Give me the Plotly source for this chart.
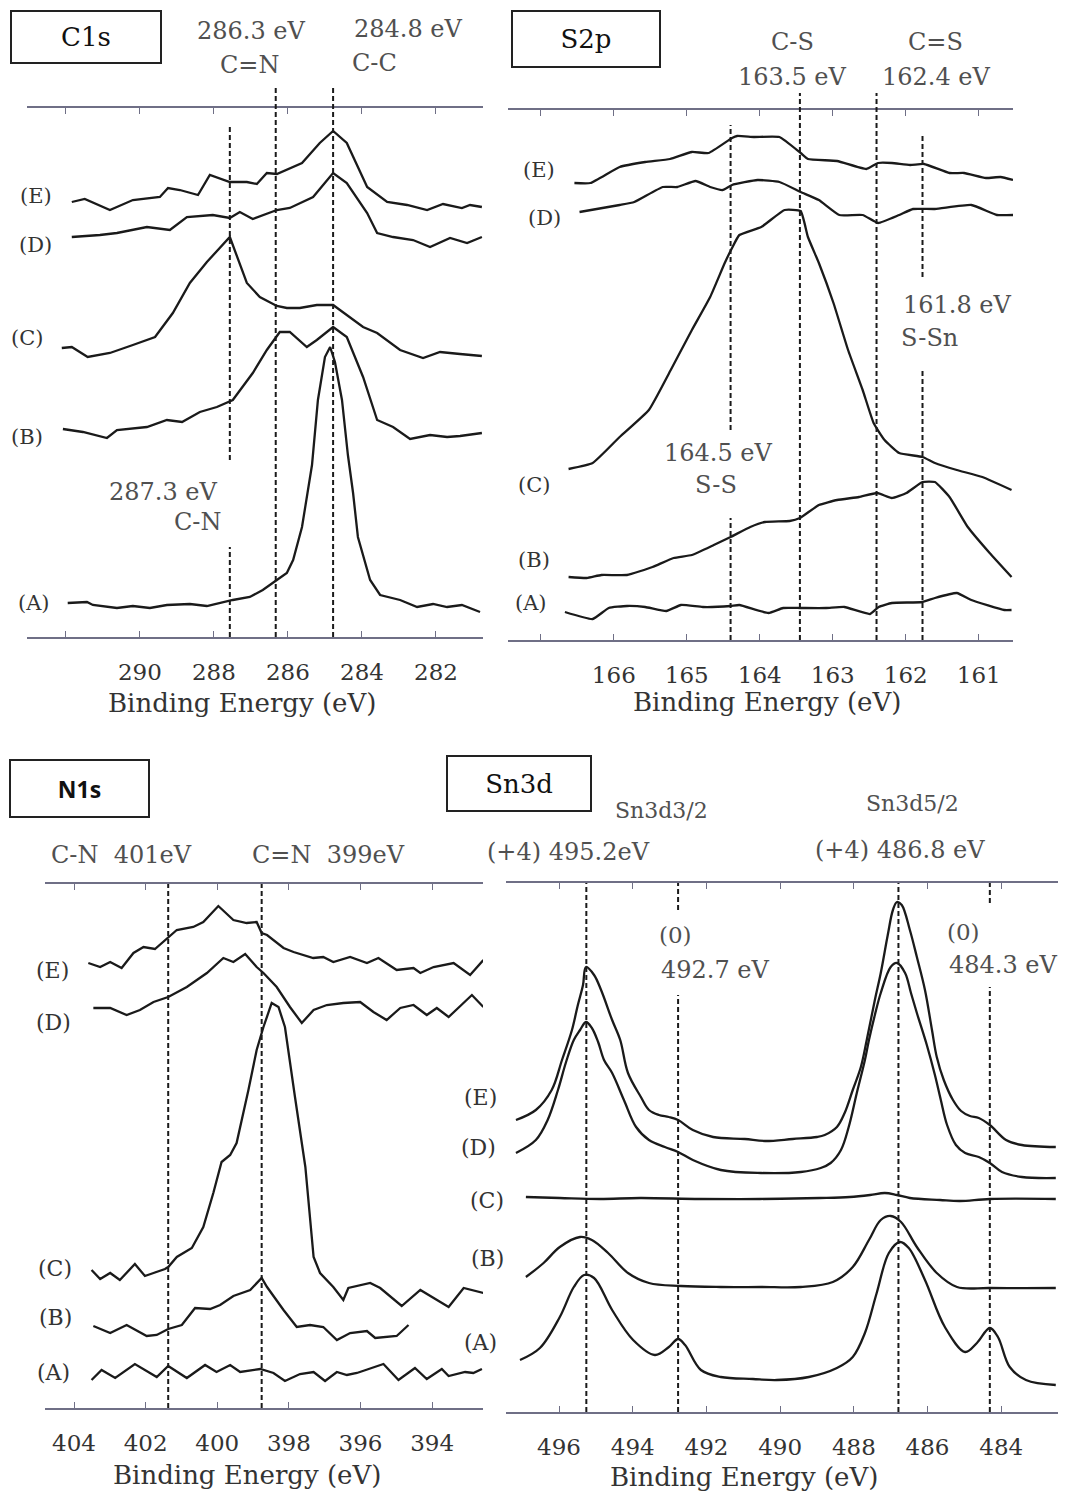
import plotly.graph_objects as go

W, H = 1069, 1493
SERIF = "DejaVu Serif, Liberation Serif, Noto Serif, serif"
SANS = "Open Sans"
INK = "#1a1a1a"
TXT = "#333333"
GRAY = "#505050"
AXC = "#6f6f86"

# ---------------- C1s ----------------
c1s_ticks = [292, 290, 288, 286, 284, 282]
c1s_ticktext = ["", "290", "288", "286", "284", "282"]
c1s_E_ev = [291.84, 291.49, 290.81, 290.19, 289.46, 289.24, 288.92, 288.43, 288.11, 287.57, 287.11, 286.84, 286.57,
            286.30, 285.62, 285.14, 284.78, 284.41, 283.86, 283.32, 282.78, 282.24, 281.81, 281.30, 281.08, 280.76]
c1s_E_int = [435, 438, 427, 437, 440, 449, 447, 442, 462, 455, 455, 453, 464, 463, 474, 494, 506, 494, 450, 435, 432,
             427, 433, 429, 432, 430]
c1s_D_ev = [291.84, 291.08, 290.62, 289.81, 289.19, 288.73, 288.03, 287.57, 287.30, 286.95, 286.30, 285.95, 285.32,
            284.78, 284.41, 283.86, 283.59, 283.16, 282.62, 282.16, 281.62, 281.16, 280.76]
c1s_D_int = [400, 402, 404, 410, 407, 420, 422, 419, 425, 418, 427, 429, 440, 464, 454, 424, 404, 400, 397, 390, 399,
             394, 400]
c1s_C_ev = [292.11, 291.84, 291.41, 290.81, 290.19, 289.59, 289.11, 288.65, 288.19, 287.57, 287.11, 286.76, 286.30,
            286.03, 285.68, 285.22, 284.78, 284.41, 283.97, 283.59, 282.97, 282.35, 281.89, 281.35, 280.76]
c1s_C_int = [289, 290, 280, 284, 292, 300, 324, 354, 375, 400, 354, 340, 331, 329, 329, 332, 332, 322, 310, 304, 287,
             279, 285, 283, 281]
c1s_B_ev = [292.08, 291.54, 290.89, 290.62, 289.81, 289.27, 288.86, 288.38, 287.92, 287.49, 286.95, 286.57, 286.22,
            285.95, 285.49, 285.22, 284.78, 284.41, 283.97, 283.59, 283.16, 282.70, 282.16, 281.70, 281.35, 280.76]
c1s_B_int = [208, 205, 199, 207, 210, 217, 215, 225, 230, 237, 264, 287, 305, 305, 290, 297, 310, 300, 260, 217, 210,
             198, 202, 200, 201, 204]
c1s_A_ev = [291.95, 291.43, 291.27, 290.62, 290.19, 289.73, 289.27, 288.65, 288.19, 287.84, 287.49, 287.03, 286.68,
            286.30, 286.03, 285.86, 285.62, 285.35, 285.19, 285.00, 284.86, 284.73, 284.54, 284.38, 284.24, 284.11,
            283.78, 283.51, 282.97, 282.51, 282.08, 281.70, 281.30, 280.81]
c1s_A_int = [34, 35, 32, 29, 31, 29, 32, 33, 31, 34, 37, 40, 47, 57, 64, 77, 110, 172, 237, 280, 290, 275, 237, 182,
             144, 100, 57, 42, 37, 30, 33, 30, 32, 25]
# guide lines: (eV, [(int_low, int_high), ...])
c1s_guides = [(284.78, [(0, 549)]), (286.33, [(0, 552)]), (287.57, [(177, 510), (0, 90)])]

# ---------------- S2p ----------------
s2p_ticks = [167, 166, 165, 164, 163, 162, 161]
s2p_ticktext = ["", "166", "165", "164", "163", "162", "161"]
s2p_E_ev = [166.54, 166.32, 165.92, 165.57, 165.23, 164.93, 164.70, 164.38, 164.31, 164.08, 163.73, 163.44, 163.34,
            162.94, 162.54, 162.38, 162.19, 161.94, 161.75, 161.40, 161.20, 160.90, 160.70, 160.53]
s2p_E_int = [457, 457, 473, 478, 481, 488, 487, 502, 504, 503, 503, 487, 481, 479, 471, 477, 477, 475, 476, 467, 467,
             462, 463, 460]
s2p_D_ev = [166.47, 165.92, 165.72, 165.33, 165.13, 164.88, 164.68, 164.51, 164.38, 164.03, 163.73, 163.44, 163.19,
            162.91, 162.59, 162.38, 162.09, 161.90, 161.60, 161.10, 160.75, 160.53]
s2p_D_int = [428, 435, 438, 453, 453, 459, 453, 450, 455, 460, 458, 448, 440, 425, 425, 417, 425, 431, 431, 435, 425,
             425]
s2p_C_ev = [166.62, 166.29, 165.92, 165.52, 165.22, 164.93, 164.68, 164.48, 164.38, 164.28, 163.98, 163.66, 163.44,
            163.34, 163.19, 162.99, 162.79, 162.59, 162.44, 162.29, 162.09, 161.77, 161.60, 161.30, 160.95, 160.55]
s2p_C_int = [171, 177, 203, 230, 270, 310, 343, 377, 392, 405, 413, 430, 429, 403, 377, 337, 290, 250, 217, 200, 187,
             183, 177, 170, 163, 150]
s2p_B_ev = [166.62, 166.37, 166.17, 165.82, 165.47, 165.18, 164.93, 164.63, 164.40, 164.13, 163.93, 163.59, 163.45,
            163.19, 162.94, 162.64, 162.39, 162.19, 161.99, 161.77, 161.60, 161.40, 161.15, 160.85, 160.55]
s2p_B_int = [63, 62, 65, 65, 73, 82, 85, 95, 103, 113, 118, 119, 122, 135, 140, 143, 147, 142, 147, 158, 158, 143,
             113, 87, 63]
s2p_A_ev = [166.67, 166.29, 166.07, 165.82, 165.57, 165.28, 165.08, 164.78, 164.40, 164.28, 163.88, 163.68, 163.44,
            163.09, 162.84, 162.49, 162.37, 162.19, 161.77, 161.60, 161.30, 161.10, 160.65, 160.55]
s2p_A_int = [28, 21, 32, 34, 33, 29, 35, 33, 34, 35, 27, 32, 32, 32, 33, 26, 33, 37, 38, 42, 47, 40, 30, 30]
s2p_guides = [(164.40, [(210, 515), (0, 122)]), (163.45, [(0, 547)]), (162.40, [(0, 547)]),
              (161.77, [(363, 507), (0, 272)])]

# ---------------- N1s ----------------
n1s_ticks = [404, 402, 400, 398, 396, 394]
n1s_ticktext = ["404", "402", "400", "398", "396", "394"]
n1s_E_ev = [403.60, 403.27, 402.99, 402.67, 402.34, 402.06, 401.74, 401.37, 401.13, 400.67, 400.39, 399.97, 399.55,
            399.18, 398.90, 398.76, 398.61, 398.15, 397.87, 397.32, 397.04, 396.76, 396.29, 395.82, 395.50, 394.99,
            394.52, 394.33, 393.96, 393.40, 392.94, 392.57]
n1s_E_int = [445, 441, 446, 440, 455, 461, 459, 470, 478, 481, 486, 502, 488, 485, 486, 475, 473, 460, 456, 450, 451,
             446, 451, 445, 450, 438, 440, 435, 441, 445, 433, 448]
n1s_D_ev = [403.46, 402.99, 402.53, 402.16, 401.78, 401.37, 400.85, 400.29, 399.83, 399.55, 399.22, 398.90, 398.71,
            398.34, 397.97, 397.64, 397.31, 396.94, 396.48, 396.01, 395.64, 395.27, 394.89, 394.52, 394.15, 393.87,
            393.54, 392.89, 392.57]
n1s_D_int = [400, 400, 393, 398, 406, 411, 421, 435, 450, 446, 454, 441, 435, 421, 401, 385, 398, 403, 405, 406, 396,
             388, 400, 403, 393, 400, 391, 413, 401]
n1s_C_ev = [403.51, 403.27, 402.99, 402.72, 402.30, 402.02, 401.78, 401.46, 401.37, 401.13, 400.71, 400.39, 400.11,
            399.88, 399.64, 399.46, 399.13, 398.90, 398.71, 398.48, 398.29, 398.11, 397.83, 397.54, 397.31, 397.13,
            396.76, 396.48, 396.34, 395.73, 395.45, 394.85, 394.33, 393.54, 393.12, 392.57]
n1s_C_int = [138, 129, 135, 128, 144, 132, 135, 139, 141, 151, 160, 181, 215, 246, 253, 265, 318, 358, 381, 405, 401,
             381, 311, 241, 151, 135, 121, 108, 120, 125, 120, 102, 118, 101, 120, 115]
n1s_B_ev = [403.46, 402.99, 402.53, 401.97, 401.69, 401.37, 400.99, 400.62, 400.20, 399.92, 399.55, 399.08, 398.76,
            398.61, 398.15, 397.78, 397.41, 397.04, 396.66, 396.29, 395.82, 395.59, 394.99, 394.66]
n1s_B_int = [82, 75, 83, 72, 73, 79, 83, 100, 99, 103, 112, 118, 130, 121, 98, 81, 83, 81, 68, 75, 77, 70, 72, 83]
n1s_A_ev = [403.51, 403.23, 402.85, 402.30, 401.69, 401.37, 400.85, 400.34, 400.02, 399.64, 399.36, 398.80, 398.43,
            398.11, 397.69, 397.31, 396.99, 396.66, 396.38, 396.10, 395.36, 394.94, 394.48, 394.15, 393.73, 393.54,
            393.08, 392.85, 392.61]
n1s_A_int = [28, 38, 30, 44, 31, 42, 30, 43, 36, 43, 36, 39, 35, 27, 34, 36, 27, 36, 33, 35, 44, 28, 40, 29, 39, 32,
             36, 35, 39]
n1s_guides = [(401.37, [(0, 524)]), (398.76, [(0, 524)])]

# ---------------- Sn3d ----------------
sn_ticks = [496, 494, 492, 490, 488, 486, 484]
sn_ticktext = ["496", "494", "492", "490", "488", "486", "484"]
sn_E_ev = [497.17, 496.63, 496.20, 495.92, 495.65, 495.49, 495.35, 495.27, 495.05, 494.86, 494.56, 494.34, 494.13,
           493.78, 493.56, 493.29, 493.02, 492.77, 492.37, 491.82, 490.96, 490.41, 489.66, 489.00, 488.79, 488.46,
           488.25, 488.03, 487.81, 487.65, 487.43, 487.27, 487.08, 486.94, 486.83, 486.70, 486.48, 486.29, 486.07,
           485.88, 485.75, 485.56, 485.31, 485.09, 484.85, 484.61, 484.31, 483.87, 483.44, 482.52]
sn_E_int = [292, 302, 322, 352, 382, 407, 427, 445, 437, 422, 392, 372, 339, 315, 302, 297, 295, 292, 282, 275, 273,
            271, 273, 275, 277, 285, 299, 322, 345, 372, 412, 439, 477, 502, 510, 507, 482, 455, 422, 382, 355, 332,
            312, 301, 296, 294, 287, 272, 267, 265]
sn_D_ev = [497.17, 496.63, 496.31, 496.03, 495.81, 495.60, 495.43, 495.27, 495.11, 494.94, 494.78, 494.56, 494.24,
           493.91, 493.56, 493.13, 492.77, 492.37, 491.61, 490.52, 489.44, 488.90, 488.63, 488.35, 488.14, 487.92,
           487.70, 487.59, 487.43, 487.27, 487.00, 486.83, 486.61, 486.45, 486.29, 486.02, 485.80, 485.64, 485.47,
           485.23, 484.98, 484.61, 484.31, 483.98, 483.44, 482.52]
sn_D_int = [259, 272, 292, 322, 350, 372, 382, 390, 384, 370, 352, 339, 312, 285, 272, 265, 260, 252, 242, 239, 240,
            244, 249, 262, 285, 319, 352, 372, 397, 419, 445, 449, 439, 419, 399, 367, 337, 312, 287, 267, 259, 255,
            249, 240, 235, 234]
sn_C_ev = [496.90, 495.98, 494.89, 493.80, 492.18, 490.55, 488.92, 488.11, 487.56, 487.16, 486.83, 486.48, 485.66,
           485.12, 484.31, 482.52]
sn_C_int = [215, 214, 213, 214, 213, 213, 214, 215, 217, 219, 217, 214, 212, 211, 213, 213]
sn_B_ev = [496.90, 496.42, 495.98, 495.43, 495.11, 494.67, 494.13, 493.56, 492.69, 491.61, 490.52, 489.44, 488.57,
           488.03, 487.59, 487.27, 487.00, 486.72, 486.29, 485.75, 485.20, 484.31, 482.52]
sn_B_int = [135, 149, 165, 175, 172, 159, 139, 129, 126, 125, 125, 125, 130, 145, 172, 192, 196, 190, 165, 139, 125,
            124, 124]
sn_A_ev = [497.06, 496.52, 495.98, 495.60, 495.32, 495.05, 494.56, 493.99, 493.40, 493.02, 492.77, 492.58, 492.15,
           491.61, 490.74, 490.09, 489.22, 488.46, 488.03, 487.70, 487.38, 487.05, 486.75, 486.51, 486.07, 485.53,
           484.98, 484.66, 484.31, 484.09, 483.77, 483.33, 482.52]
sn_A_int = [52, 64, 95, 125, 137, 134, 102, 72, 57, 65, 73, 67, 42, 35, 33, 32, 35, 44, 55, 79, 119, 159, 170, 164,
            132, 85, 60, 69, 84, 75, 45, 32, 27]
sn_guides = [(495.26, [(0, 529)]), (492.77, [(0, 417), (502, 529)]), (486.79, [(0, 529)]),
             (484.31, [(0, 425), (509, 529)])]

# ---------------- layout helpers ----------------
def px(x):
    return x / W


def py(y):
    return 1 - y / H


panels = [
    ("", (27, 483), (108, 637), (293.05, 280.73), 529, c1s_ticks, c1s_ticktext,
     [(c1s_E_ev, c1s_E_int), (c1s_D_ev, c1s_D_int), (c1s_C_ev, c1s_C_int), (c1s_B_ev, c1s_B_int),
      (c1s_A_ev, c1s_A_int)], c1s_guides, 0),
    ("2", (508, 1013), (110, 640), (167.45, 160.53), 530, s2p_ticks, s2p_ticktext,
     [(s2p_E_ev, s2p_E_int), (s2p_D_ev, s2p_D_int), (s2p_C_ev, s2p_C_int), (s2p_B_ev, s2p_B_int),
      (s2p_A_ev, s2p_A_int)], s2p_guides, 0.4),
    ("3", (45, 483), (884, 1408), (404.81, 392.58), 524, n1s_ticks, n1s_ticktext,
     [(n1s_E_ev, n1s_E_int), (n1s_D_ev, n1s_D_int), (n1s_C_ev, n1s_C_int), (n1s_B_ev, n1s_B_int),
      (n1s_A_ev, n1s_A_int)], n1s_guides, 0),
    ("4", (506, 1058), (883, 1412), (497.44, 482.46), 529, sn_ticks, sn_ticktext,
     [(sn_E_ev, sn_E_int), (sn_D_ev, sn_D_int), (sn_C_ev, sn_C_int), (sn_B_ev, sn_B_int),
      (sn_A_ev, sn_A_int)], sn_guides, 1.0),
]

fig = go.Figure()
layout = dict(width=W, height=H, margin=dict(l=0, r=0, t=0, b=0), paper_bgcolor="white", plot_bgcolor="white",
              showlegend=False)
shapes = []

for suf, (xa, xb), (ya, yb), xr, ytop, tv, tt, spectra, guides, smooth in panels:
    xname, yname = "x" + suf, "y" + suf
    for ev, inten in spectra:
        line = dict(color=INK, width=2.3, shape="spline" if smooth else "linear")
        if smooth:
            line["smoothing"] = smooth
        fig.add_trace(go.Scatter(x=ev, y=inten, mode="lines", xaxis=xname, yaxis=yname, line=line,
                                 hoverinfo="skip"))
    layout["xaxis" + suf] = dict(domain=[px(xa), px(xb)], range=list(xr), anchor=yname, showline=True,
                                 linecolor=AXC, linewidth=1.6, mirror="ticks", ticks="inside", ticklen=6,
                                 tickwidth=1.3, tickcolor=AXC, tickvals=tv, ticktext=tt, showgrid=False,
                                 zeroline=False, ticklabelstandoff=14,
                                 tickfont=dict(family=SERIF, size=23, color=TXT))
    layout["yaxis" + suf] = dict(domain=[py(yb), py(ya)], range=[0, ytop], anchor=xname, visible=False,
                                 showgrid=False, zeroline=False)
    for ev0, segs in guides:
        for lo, hi in segs:
            shapes.append(dict(type="line", xref=xname, yref=yname + " domain", x0=ev0, x1=ev0,
                               y0=lo / ytop, y1=hi / ytop, line=dict(color=INK, width=2, dash="5px,3px")))

layout["shapes"] = shapes


def ann(text, x, y, size, color=TXT, family=SERIF, **kw):
    d = dict(text=text, x=px(x), y=py(y), xref="paper", yref="paper", showarrow=False, xanchor="center",
             yanchor="middle", font=dict(family=family, size=size, color=color))
    d.update(kw)
    return d


def box(text, x0, y0, x1, y1, size, family=SERIF):
    return ann(text, (x0 + x1) / 2, (y0 + y1) / 2, size, color="#111", family=family, bordercolor="#222",
               borderwidth=2, borderpad=0, width=x1 - x0 - 4, height=y1 - y0 - 4, bgcolor="white")


annotations = [
    # C1s
    box("C1s", 10, 10, 162, 64, 26),
    ann("286.3 eV", 251, 31, 24, GRAY), ann("C=N", 249, 65, 24, GRAY),
    ann("284.8 eV", 408, 29, 24, GRAY), ann("C-C", 374, 63, 24, GRAY),
    ann("287.3 eV", 163, 492, 24, GRAY), ann("C-N", 197, 522, 24, GRAY),
    ann("(E)", 36, 196, 21), ann("(D)", 35, 245, 21), ann("(C)", 27, 338, 21),
    ann("(B)", 27, 437, 21), ann("(A)", 34, 603, 21),
    ann("Binding Energy (eV)", 242, 703, 26),
    # S2p
    box("S2p", 511, 10, 661, 68, 26),
    ann("C-S", 792, 42, 24, GRAY), ann("163.5 eV", 792, 77, 24, GRAY),
    ann("C=S", 935, 42, 24, GRAY), ann("162.4 eV", 936, 77, 24, GRAY),
    ann("161.8 eV", 957, 305, 24, GRAY), ann("S-Sn", 929, 338, 24, GRAY),
    ann("164.5 eV", 718, 453, 24, GRAY), ann("S-S", 716, 485, 24, GRAY),
    ann("(E)", 539, 170, 21), ann("(D)", 544, 218, 21), ann("(C)", 534, 485, 21),
    ann("(B)", 534, 560, 21), ann("(A)", 531, 603, 21),
    ann("Binding Energy (eV)", 767, 702, 26),
    # N1s
    box("<b>N1s</b>", 9, 759, 150, 818, 23, family=SANS),
    ann("C-N  401eV", 121, 855, 24, GRAY), ann("C=N  399eV", 328, 855, 24, GRAY),
    ann("(E)", 52, 970, 22), ann("(D)", 53, 1022, 22), ann("(C)", 55, 1268, 22),
    ann("(B)", 55, 1317, 22), ann("(A)", 53, 1372, 22),
    ann("Binding Energy (eV)", 247, 1475, 26),
    # Sn3d
    box("Sn3d", 446, 755, 592, 812, 26),
    ann("Sn3d3/2", 661, 810, 22, GRAY), ann("Sn3d5/2", 912, 803, 22, GRAY),
    ann("(+4) 495.2eV", 568, 852, 24, GRAY), ann("(+4) 486.8 eV", 900, 850, 24, GRAY),
    ann("(0)", 675, 935, 23, GRAY), ann("492.7 eV", 715, 970, 24, GRAY),
    ann("(0)", 963, 932, 23, GRAY), ann("484.3 eV", 1003, 965, 24, GRAY),
    ann("(E)", 480, 1097, 22), ann("(D)", 478, 1147, 22), ann("(C)", 487, 1200, 22),
    ann("(B)", 487, 1258, 22), ann("(A)", 480, 1342, 22),
    ann("Binding Energy (eV)", 744, 1477, 26),
]
layout["annotations"] = annotations

fig.update_layout(**layout)
fig.write_html("out.html")
